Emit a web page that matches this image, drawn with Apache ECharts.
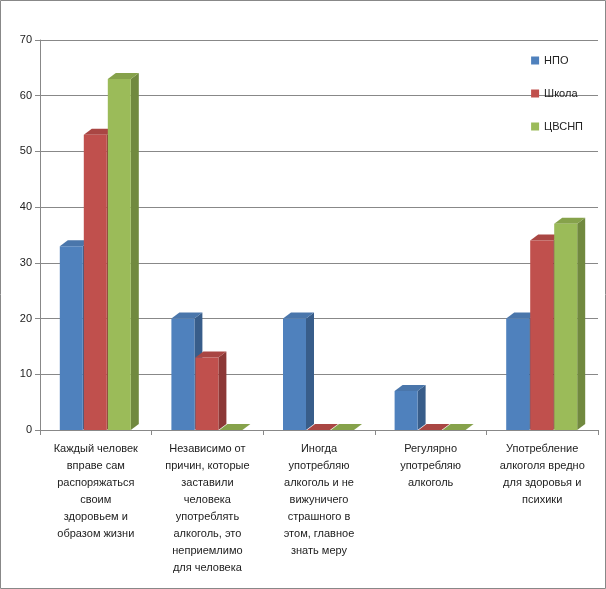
<!DOCTYPE html>
<html><head><meta charset="utf-8">
<script src="https://cdn.jsdelivr.net/npm/echarts@6/dist/echarts.min.js"></script>
<style>html,body{margin:0;padding:0;background:#fff}#c{width:606px;height:589px}</style>
</head><body><div id="c"></div>
<script>
const categories = [
  'Каждый человек\nвправе сам\nраспоряжаться\nсвоим\nздоровьем и\nобразом жизни',
  'Независимо от\nпричин, которые\nзаставили\nчеловека\nупотреблять\nалкоголь, это\nнеприемлимо\nдля человека',
  'Иногда\nупотребляю\nалкоголь и не\nвижуничего\nстрашного в\nэтом, главное\nзнать меру',
  'Регулярно\nупотребляю\nалкоголь',
  'Употребление\nалкоголя вредно\nдля здоровья и\nпсихики'
];
const seriesNames = ['НПО', 'Школа', 'ЦВСНП'];
const npo = [33, 20, 20, 7, 20];
const school = [53, 13, 0, 0, 34];
const cvsnp = [63, 0, 0, 0, 37];
const colors = [
  { front: '#4F81BD', side: '#385D8A', top: '#4A76AB' },
  { front: '#C0504D', side: '#8C3836', top: '#A94643' },
  { front: '#9BBB59', side: '#71893F', top: '#86A24B' }
];

const DX = 8, DY = 6, BAR = 24;

function makeSeries(name, data, idx) {
  const c = colors[idx];
  return {
    name, type: 'custom', data: data.map((v, i) => [i, v]),
    itemStyle: { color: c.front },
    renderItem(params, api) {
      const i = api.value(0), v = api.value(1);
      const base = api.coord([i, 0]);
      const top = api.coord([i, v]);
      const x = base[0] - 1.5 * BAR + idx * BAR;
      const y0 = base[1], y1 = top[1];
      const w = BAR - 1;
      return {
        type: 'group', children: [
          { type: 'polygon', shape: { points: [[x + w, y1], [x + w + DX, y1 - DY], [x + w + DX, y0 - DY], [x + w, y0]] }, style: { fill: c.side } },
          { type: 'polygon', shape: { points: [[x, y1], [x + DX, y1 - DY], [x + w + DX, y1 - DY], [x + w, y1]] }, style: { fill: c.top } },
          { type: 'rect', shape: { x, y: y1, width: w, height: y0 - y1 }, style: { fill: c.front } }
        ]
      };
    }
  };
}

const chart = echarts.init(document.getElementById('c'));
chart.setOption({
  animation: false,
  graphic: [{ type: 'rect', shape: { x: 0.5, y: 0.5, width: 605, height: 588 }, style: { fill: 'none', stroke: '#888', lineWidth: 1 } }],
  legend: {
    orient: 'vertical', right: 18, top: 50, itemGap: 22, itemWidth: 8, itemHeight: 8,
    icon: 'rect', textStyle: { fontSize: 11, color: '#222', fontFamily: 'Liberation Sans' },
    data: seriesNames
  },
  grid: { left: 40, right: 8, top: 40, bottom: 159 },
  xAxis: {
    type: 'category', data: categories,
    axisLine: { lineStyle: { color: '#888' } }, axisTick: { show: true, lineStyle: { color: '#888' } },
    axisLabel: { interval: 0, fontSize: 11, lineHeight: 17, color: '#222', fontFamily: 'Liberation Sans', margin: 10 }
  },
  yAxis: {
    type: 'value', min: 0, max: 70, interval: 10,
    axisLine: { show: true, lineStyle: { color: '#888' } }, axisTick: { show: true, lineStyle: { color: '#888' } },
    splitLine: { lineStyle: { color: '#888' } },
    axisLabel: { fontSize: 11, color: '#222', fontFamily: 'Liberation Sans' }
  },
  series: [makeSeries('НПО', npo, 0), makeSeries('Школа', school, 1), makeSeries('ЦВСНП', cvsnp, 2)]
});
</script></body></html>
